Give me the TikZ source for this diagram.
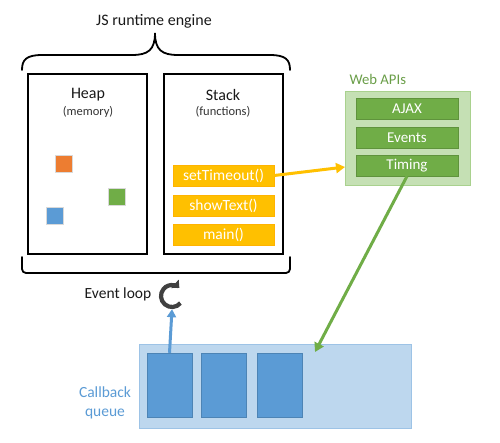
\documentclass[tikz,border=0pt]{standalone}
\usepackage{fontspec}
\setmainfont{Carlito}
\usetikzlibrary{arrows.meta}
\definecolor{ygold}{HTML}{FFC000}
\definecolor{gdark}{HTML}{70AD47}
\definecolor{glight}{HTML}{C5E0B4}
\definecolor{gborder}{HTML}{A9D18E}
\definecolor{gtext}{HTML}{6A9E48}
\definecolor{bdark}{HTML}{5B9BD5}
\definecolor{blight}{HTML}{BDD7EE}
\definecolor{bborder}{HTML}{9DC3E6}
\definecolor{iconc}{HTML}{404040}
\definecolor{orng}{HTML}{ED7D31}
\tikzset{
  enginebox/.style={draw=black, line width=1.8pt, fill=white, inner sep=0pt, minimum width=119pt, minimum height=180pt},
  heapsq/.style={draw=white!85!black, line width=0.4pt, inner sep=0pt, minimum size=17pt},
  frame/.style={fill=ygold, draw=ygold!80!orange, line width=0.4pt, inner sep=0pt, minimum width=101pt, minimum height=21pt, text=white, font=\fontsize{15.5}{17}\selectfont},
  apibox/.style={fill=gdark, draw=gdark!85!black, line width=0.4pt, inner sep=0pt, minimum width=102pt, minimum height=21pt, text=white, font=\fontsize{15}{17}\selectfont},
  cbbox/.style={fill=bdark, draw=bdark!85!black, line width=0.4pt, inner sep=0pt, minimum width=45pt, minimum height=64pt},
  brace/.style={draw=black, line width=1.8pt, line cap=round},
  title/.style={font=\fontsize{16}{18}\selectfont, text=black!90},
  sub/.style={font=\fontsize{12.5}{14}\selectfont, text=black!80}
}
\begin{document}
\begin{tikzpicture}[x=1pt,y=-1pt]
\useasboundingbox (0,0) rectangle (500,442);
\fill[white] (0,0) rectangle (500,442);

% title and top brace
\node[title] (jstitle) at (154,21) {JS runtime engine};
\draw[brace] (22,70) .. controls (22,60) and (26,55) .. (42,55) -- (132,55)
  .. controls (148,55) and (155,50) .. (155,33)
  .. controls (155,50) and (162,55) .. (178,55) -- (270,55)
  .. controls (286,55) and (290,60) .. (290,70);

% engine boxes
\node[enginebox] (heap) at (87.5,164) {};
\node[enginebox] (stack) at (223.5,164) {};
\node[title] (heapt) at (88,95) {Heap};
\node[sub] (heaps) at (88,112) {(memory)};
\node[title] (stackt) at (223,95) {Stack};
\node[sub] (stacks) at (223,112) {(functions)};

% heap objects
\node[heapsq, fill=orng] (sqo) at (63.5,163.5) {};
\node[heapsq, fill=gdark] (sqg) at (116.5,197) {};
\node[heapsq, fill=bdark] (sqb) at (55,215.5) {};

% stack frames
\node[frame] (st) at (223.5,175.5) {setTimeout()};
\node[frame] (sh) at (223.5,205.5) {showText()};
\node[frame] (mn) at (223.5,234.5) {main()};

% bottom bracket
\draw[brace] (22,257) -- (22,269) arc[start angle=180, end angle=90, radius=4] -- (286,273) arc[start angle=90, end angle=0, radius=4] -- (290,257);

% event loop
\node[font=\fontsize{15.5}{18}\selectfont, text=black!90] (evt) at (118,294) {Event loop};
\node[minimum size=26pt, inner sep=0pt] (loop) at (172,296) {};
\draw[iconc, line width=4.2pt, -{Triangle[length=6pt,width=11pt]}] ([shift={(40:11)}]loop.center) arc[start angle=40, end angle=312, radius=11];

% web APIs
\node[font=\fontsize{14.7}{17}\selectfont, text=gtext, anchor=west] (webt) at (346,79) {Web APIs};
\node[fill=glight, draw=gborder, line width=0.8pt, inner sep=0pt, minimum width=125pt, minimum height=94pt] (web) at (407.5,138) {};
\node[apibox] (ajax) at (407,109) {AJAX};
\node[apibox] (events) at (407,138) {Events};
\node[apibox] (timing) at (407,165.5) {Timing};

% callback queue
\node[fill=blight, draw=bborder, line width=0.8pt, inner sep=0pt, minimum width=272pt, minimum height=84pt] (queue) at (275,386) {};
\node[cbbox] (cb1) at (169.5,385) {};
\node[cbbox] (cb2) at (224,385) {};
\node[cbbox] (cb3) at (280,385) {};
\node[font=\fontsize{15.5}{19}\selectfont, text=bdark, align=center] (cbt) at (105,403) {Callback\\queue};

% connectors
\coordinate (yend) at (345,167);
\coordinate (gend) at (315,352);
\draw[ygold, line width=3pt, -{Triangle[length=9pt,width=10pt]}] (st.east) -- (yend);
\draw[gdark, line width=3pt, -{Triangle[length=9pt,width=10pt]}] (timing.south) -- (gend);
\draw[bdark, line width=3pt, -{Triangle[length=8pt,width=9pt]}] (cb1.north) -- (loop.south);
\end{tikzpicture}
\end{document}
